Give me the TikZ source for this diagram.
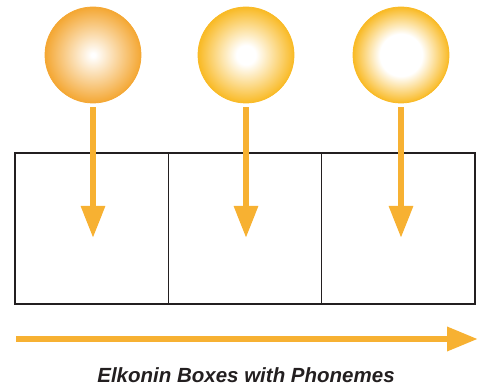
\documentclass[tikz,border=0pt]{standalone}
\usepackage{fontspec}
\setmainfont{Liberation Sans}
\usetikzlibrary{arrows.meta}

\definecolor{arrowgold}{HTML}{F7B132}
\definecolor{ballorange}{HTML}{F4A733}
\definecolor{ballyellow}{HTML}{F9BA25}
\definecolor{boxline}{HTML}{231F20}

% radial fills: the white core grows from ball to ball
\pgfdeclareradialshading{ballA}{\pgfpoint{0bp}{0bp}}{%
  color(0bp)=(white); color(1bp)=(white); color(25bp)=(ballorange); color(50bp)=(ballorange)}
\pgfdeclareradialshading{ballB}{\pgfpoint{0bp}{0bp}}{%
  color(0bp)=(white); color(5bp)=(white); color(25bp)=(ballyellow); color(50bp)=(ballyellow)}
\pgfdeclareradialshading{ballC}{\pgfpoint{0bp}{0bp}}{%
  color(0bp)=(white); color(11bp)=(white); color(25bp)=(ballyellow); color(50bp)=(ballyellow)}

\tikzset{
  ball/.style={circle, minimum size=96pt, inner sep=0pt, line width=0.8pt},
  elkbox/.style={rectangle, draw=boxline, line width=1.3pt, minimum width=153.3pt,
    minimum height=151pt, inner sep=0pt},
  droparrow/.style={draw=arrowgold, line width=6pt,
    -{Triangle[width=23pt,length=32pt]}},
  flowarrow/.style={draw=arrowgold, line width=6.5pt,
    -{Triangle[width=23pt,length=31pt]}},
  caption/.style={font=\bfseries\itshape\fontsize{20.5}{24}\selectfont, text=boxline,
    anchor=base, inner sep=0pt, text depth=0pt}
}

\begin{document}
\begin{tikzpicture}[x=1pt, y=-1pt]
  \useasboundingbox (0,0) rectangle (480,385);

  % the three phoneme balls
  \node[ball, shading=ballA, draw=ballorange] (c1) at (93,55) {};
  \node[ball, shading=ballB, draw=ballyellow] (c2) at (246,55) {};
  \node[ball, shading=ballC, draw=ballyellow] (c3) at (401,55) {};

  % the row of Elkonin boxes
  \node[elkbox] (b1) at (91.65,228.5) {};
  \node[elkbox] (b2) at (245,228.5) {};
  \node[elkbox] (b3) at (398.35,228.5) {};

  % where each drop arrow ends inside its box
  \coordinate (t1) at (93,238);
  \coordinate (t2) at (246,238);
  \coordinate (t3) at (401,238);

  \draw[droparrow] ([yshift=-4pt]c1.south) -- (t1);
  \draw[droparrow] ([yshift=-4pt]c2.south) -- (t2);
  \draw[droparrow] ([yshift=-4pt]c3.south) -- (t3);

  % direction of reading
  \coordinate (fs) at (16,339);
  \coordinate (fe) at (478,339);
  \draw[flowarrow] (fs) -- (fe);

  \node[caption] (cap) at (246,382) {Elkonin Boxes with Phonemes};
\end{tikzpicture}
\end{document}
